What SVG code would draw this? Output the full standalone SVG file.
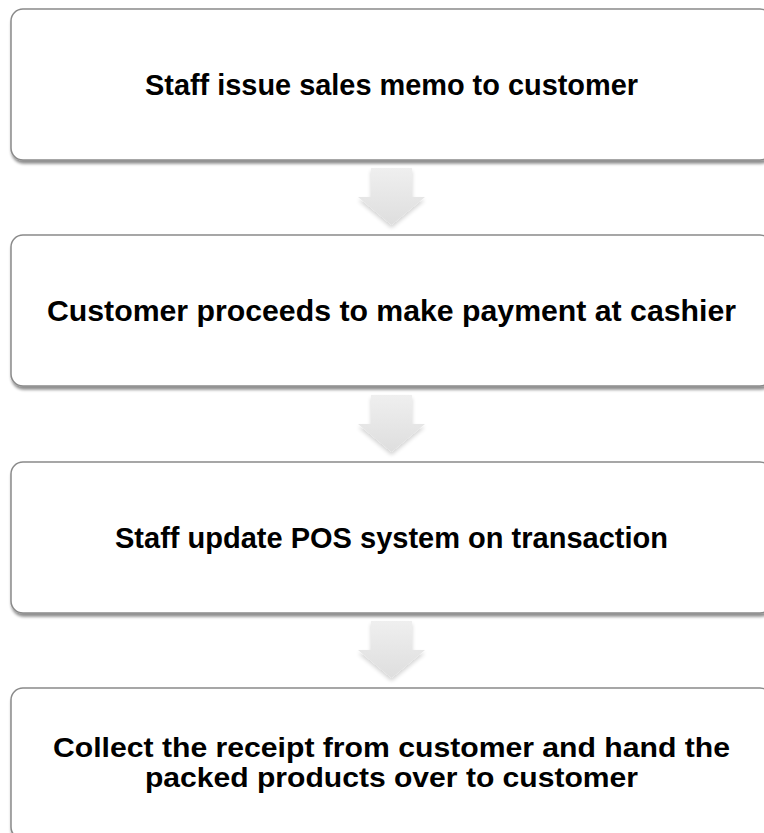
<svg xmlns="http://www.w3.org/2000/svg" width="764" height="833" viewBox="0 0 764 833">
  <defs>
    <filter id="boxShadow" x="-5%" y="-10%" width="110%" height="130%">
      <feGaussianBlur in="SourceAlpha" stdDeviation="1.6"/>
      <feOffset dx="1" dy="2.5" result="b"/>
      <feComponentTransfer><feFuncA type="linear" slope="0.45"/></feComponentTransfer>
      <feMerge><feMergeNode/><feMergeNode in="SourceGraphic"/></feMerge>
    </filter>
    <filter id="arrowShadow" x="-30%" y="-30%" width="160%" height="170%">
      <feGaussianBlur in="SourceAlpha" stdDeviation="2.2"/>
      <feOffset dx="0" dy="2.5" result="b"/>
      <feComponentTransfer><feFuncA type="linear" slope="0.18"/></feComponentTransfer>
      <feMerge><feMergeNode/><feMergeNode in="SourceGraphic"/></feMerge>
    </filter>
    <linearGradient id="arrowFill" x1="0" y1="0" x2="0" y2="1">
      <stop offset="0" stop-color="#efefef"/>
      <stop offset="1" stop-color="#dedede"/>
    </linearGradient>
    <path id="downArrow" d="M13 0 H54 V29 H67 L33.5 57 L0 29 H13 Z"/>
  </defs>
  <style>
    .box { fill: #ffffff; stroke: #8a8a8a; stroke-width: 1.5; filter: url(#boxShadow); }
    .label { font-family: "Liberation Sans", Arial, sans-serif; font-weight: bold; font-size: 29.5px; fill: #000000; text-anchor: middle; }
    .label.tight { font-size: 28.5px; }
    .arrow { fill: url(#arrowFill); filter: url(#arrowShadow); }
  </style>
  <rect width="764" height="833" fill="#ffffff"/>

  <g id="connectors">
    <use href="#downArrow" class="arrow" transform="translate(358,168)"/>
    <use href="#downArrow" class="arrow" transform="translate(358,395)"/>
    <use href="#downArrow" class="arrow" transform="translate(358,621)"/>
  </g>

  <g id="step1">
    <rect class="box" x="11" y="9" width="761" height="151" rx="12"/>
    <text class="label" x="391.5" y="95" textLength="493" lengthAdjust="spacingAndGlyphs">Staff issue sales memo to customer</text>
  </g>
  <g id="step2">
    <rect class="box" x="11" y="235" width="761" height="151" rx="12"/>
    <text class="label" x="391.5" y="321" textLength="689" lengthAdjust="spacingAndGlyphs">Customer proceeds to make payment at cashier</text>
  </g>
  <g id="step3">
    <rect class="box" x="11" y="462" width="761" height="151" rx="12"/>
    <text class="label" x="391.5" y="547.5" textLength="553" lengthAdjust="spacingAndGlyphs">Staff update POS system on transaction</text>
  </g>
  <g id="step4">
    <rect class="box" x="11" y="688" width="761" height="151" rx="12"/>
    <text class="label tight" x="391.5" y="756.5" textLength="677" lengthAdjust="spacingAndGlyphs">Collect the receipt from customer and hand the</text>
    <text class="label tight" x="391.5" y="786.5" textLength="493" lengthAdjust="spacingAndGlyphs">packed products over to customer</text>
  </g>
</svg>
